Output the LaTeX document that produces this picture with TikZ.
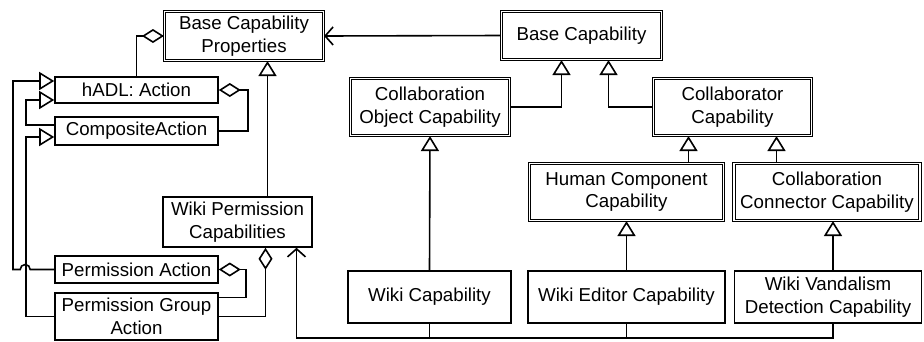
\documentclass[tikz,border=0pt]{standalone}
\usepackage{fontspec}
\setmainfont{Liberation Sans}
\usetikzlibrary{arrows.meta}
\usetikzlibrary{backgrounds}

\begin{document}
\begin{tikzpicture}[x=1pt, y=-1pt,
	box/.style={draw, fill=white, line width=1.6pt, align=center, inner sep=0pt, font=\fontsize{18.7}{22.5}\selectfont},
	dbox/.style={box, double, line width=1.1pt, double distance=1.4pt},
	wire/.style={draw, line width=1.6pt},
	gen/.style={wire, -{Triangle[open, width=18pt, length=15pt]}},
	aggr/.style={wire, -{Diamond[open, width=14pt, length=22pt]}},
	dep/.style={wire, -{Straight Barb[width=18pt, length=8pt]}}]
		%%\tikzstyle{vertex} = [rectangle, draw, fill=white]
		\useasboundingbox (0,0) rectangle (924,341);

		\begin{scope}[every node/.style={dbox}]
		\node[minimum width=159pt, minimum height=49pt] (bcp) at (244, 36) {Base Capability\\Properties};
		\node[minimum width=160pt, minimum height=48pt] (bc) at (581.5, 35.5) {Base Capability};
		\node[minimum width=159pt, minimum height=57pt] (coc) at (430, 107) {Collaboration\\Object Capability};
		\node[minimum width=158pt, minimum height=57pt] (colc) at (732.5, 107) {Collaborator\\Capability};
		\node[minimum width=194pt, minimum height=57pt] (hcc) at (626.5, 192) {Human Component\\Capability};
		\node[minimum width=186pt, minimum height=57pt] (ccc) at (827, 192) {Collaboration\\Connector Capability};
		\end{scope}

		\begin{scope}[every node/.style={box}]
		\node[minimum width=163pt, minimum height=26pt] (hadl) at (136.5, 90) {hADL: Action};
		\node[minimum width=163pt, minimum height=28pt] (comp) at (136.5, 131) {CompositeAction};
		\node[minimum width=163pt, minimum height=27pt] (pa) at (136.5, 269.5) {Permission Action};
		\node[minimum width=163pt, minimum height=47pt] (pga) at (136.5, 316.5) {Permission Group\\Action};
		\node[minimum width=149pt, minimum height=50pt] (wpc) at (237.5, 222) {Wiki Permission\\Capabilities};
		\node[minimum width=163pt, minimum height=52pt] (wc) at (429.5, 297) {Wiki Capability};
		\node[minimum width=197pt, minimum height=52pt] (wec) at (626.5, 297) {Wiki Editor Capability};
		\node[minimum width=187pt, minimum height=52pt] (wvdc) at (828, 297) {Wiki Vandalism\\Detection Capability};
		\end{scope}

		\coordinate (lx1) at (13, 0);
		\coordinate (lx2) at (26, 0);

		\begin{scope}[on background layer]
			\draw[dep] (bc.west) -- (bcp.east);
			\draw[aggr] (hadl.north) |- (bcp.west);
			\draw[aggr] (comp.east) -- ++(29,0) |- (hadl.east);
			\draw[gen] ([yshift=6pt]comp.west) -- ([yshift=6pt]comp.west -| lx2) |- ([yshift=-10pt]hadl.west);
			\draw[gen] (pa.west) -- ([xshift=-24pt]pa.west) arc[start angle=0, end angle=180, radius=5pt]
				-- (pa.west -| lx1) |- ([yshift=9pt]hadl.west);
			\draw[gen] (pga.west) -- (pga.west -| lx2) |- ([yshift=-6pt]comp.west);
			\draw[aggr] ([yshift=19pt]pga.east) -- ++(27,0) |- (pa.east);
			\draw[aggr] (pga.east) -| ([xshift=28pt]wpc.south);
			\draw[gen] ([xshift=30pt]wpc.north) -- ([xshift=30pt]wpc.north |- bcp.south);

			\draw[gen] (coc.east) -| ([xshift=-20pt]bc.south);
			\draw[gen] (colc.west) -| ([xshift=27pt]bc.south);
			\draw[gen] ([xshift=-44pt]colc.south |- hcc.north) -- ([xshift=-44pt]colc.south);
			\draw[gen] ([xshift=44pt]colc.south |- ccc.north) -- ([xshift=44pt]colc.south);

			\draw[gen] (wc.north) -- (coc.south);
			\draw[gen] (wec.north) -- (hcc.south);
			\draw[gen] ([xshift=5pt]wvdc.north) -- ([xshift=5pt]wvdc.north |- ccc.south);

			\draw[dep] ([xshift=5pt]wvdc.south) -- ++(0,14) -| ([xshift=59pt]wpc.south);
			\foreach \x in {wc,wec}
				\draw[wire] (\x.south) -- ++(0,14);
		\end{scope}

	\end{tikzpicture}
\end{document}
